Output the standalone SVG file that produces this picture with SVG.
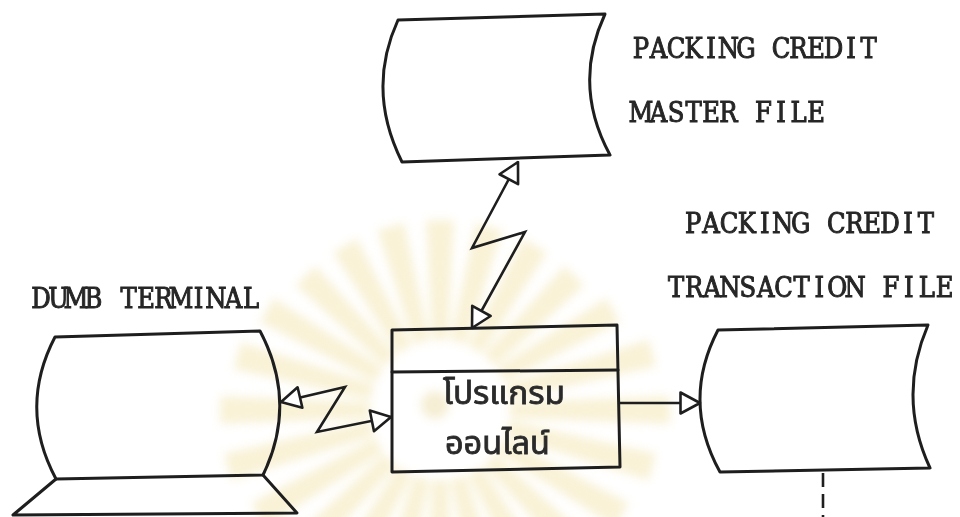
<svg xmlns="http://www.w3.org/2000/svg" width="960" height="517" viewBox="0 0 960 517">
  <style>
    .shape { fill: none; stroke: #1e1e1e; stroke-width: 3; stroke-linejoin: round; stroke-linecap: round; }
    .conn { fill: none; stroke: #1e1e1e; stroke-width: 2.6; stroke-linejoin: miter; }
    /* typewriter labels: one fixed-pitch cell per character */
    .label { font-family: "DejaVu Serif Condensed", "DejaVu Serif", "Liberation Serif", serif; font-size: 27px; fill: #262626; stroke: #262626; stroke-width: 0.9; text-anchor: middle; }
    .thai { font-family: "Noto Sans Thai", "Noto Sans", "DejaVu Sans", sans-serif; font-size: 32px; fill: #2a2a2a; stroke: #2a2a2a; stroke-width: 0.8; }
    .ray { fill: #f2e2a6; }
  </style>
  <defs>
    <marker id="open-arrow" viewBox="0 0 23 26" refX="21.5" refY="13" markerWidth="23" markerHeight="26" markerUnits="userSpaceOnUse" orient="auto-start-reverse">
      <path d="M2,2.5 L21.5,13 L2,23.5 Z" fill="#ffffff" stroke="#1e1e1e" stroke-width="2.6" stroke-linejoin="round"/>
    </marker>
    <filter id="soft" x="-20%" y="-20%" width="140%" height="140%">
      <feGaussianBlur stdDeviation="5"/>
    </filter>
  </defs>

  <rect width="960" height="517" fill="#ffffff"/>

  <!-- faint sunburst emblem printed behind the program box -->
  <g id="emblem" opacity="0.45" filter="url(#soft)">
    <g transform="translate(440,410)">
      <polygon class="ray" points="-8,-70 8,-70 14,-190 -14,-190" transform="rotate(0)"/>
      <polygon class="ray" points="-8,-70 8,-70 14,-190 -14,-190" transform="rotate(15)"/>
      <polygon class="ray" points="-8,-70 8,-70 14,-190 -14,-190" transform="rotate(30)"/>
      <polygon class="ray" points="-8,-70 8,-70 14,-190 -14,-190" transform="rotate(45)"/>
      <polygon class="ray" points="-8,-70 8,-70 14,-200 -14,-200" transform="rotate(60)"/>
      <polygon class="ray" points="-8,-70 8,-70 14,-220 -14,-220" transform="rotate(75)"/>
      <polygon class="ray" points="-8,-70 8,-70 14,-230 -14,-230" transform="rotate(90)"/>
      <polygon class="ray" points="-8,-70 8,-70 14,-220 -14,-220" transform="rotate(105)"/>
      <polygon class="ray" points="-8,-70 8,-70 14,-210 -14,-210" transform="rotate(120)"/>
      <polygon class="ray" points="-8,-70 8,-70 14,-190 -14,-190" transform="rotate(135)"/>
      <polygon class="ray" points="-8,-70 8,-70 14,-190 -14,-190" transform="rotate(150)"/>
      <polygon class="ray" points="-8,-70 8,-70 14,-190 -14,-190" transform="rotate(165)"/>
      <polygon class="ray" points="-8,-70 8,-70 14,-190 -14,-190" transform="rotate(180)"/>
      <polygon class="ray" points="-8,-70 8,-70 14,-190 -14,-190" transform="rotate(195)"/>
      <polygon class="ray" points="-8,-70 8,-70 14,-190 -14,-190" transform="rotate(210)"/>
      <polygon class="ray" points="-8,-70 8,-70 14,-200 -14,-200" transform="rotate(225)"/>
      <polygon class="ray" points="-8,-70 8,-70 14,-210 -14,-210" transform="rotate(240)"/>
      <polygon class="ray" points="-8,-70 8,-70 14,-220 -14,-220" transform="rotate(255)"/>
      <polygon class="ray" points="-8,-70 8,-70 14,-220 -14,-220" transform="rotate(270)"/>
      <polygon class="ray" points="-8,-70 8,-70 14,-210 -14,-210" transform="rotate(285)"/>
      <polygon class="ray" points="-8,-70 8,-70 14,-200 -14,-200" transform="rotate(300)"/>
      <polygon class="ray" points="-8,-70 8,-70 14,-190 -14,-190" transform="rotate(315)"/>
      <polygon class="ray" points="-8,-70 8,-70 14,-190 -14,-190" transform="rotate(330)"/>
      <polygon class="ray" points="-8,-70 8,-70 14,-190 -14,-190" transform="rotate(345)"/>
      <circle r="14" cx="-5" cy="-5" fill="#ead9a0"/>
    </g>
  </g>

  <!-- master file (online storage) -->
  <g id="master-file">
    <path class="shape" d="M398,20 L605,14 Q572,85 610,155 L402,162 Q366,90 398,20 Z"/>
    <text class="label" y="58" x="641 658.5 676 693.5 711 728.5 746 763.5 781 798.5 816 833.5 851 868.5">PACKING CREDIT</text>
    <text class="label" y="122" x="641 658.5 676 693.5 711 728.5 746 763.5 781 798.5 816">MASTER FILE</text>
  </g>

  <!-- dumb terminal (display) -->
  <g id="terminal">
    <path class="shape" d="M55,337 L260,331 Q298,403 263,475 L56,479 Q18,408 55,337 Z"/>
    <path class="shape" d="M56,479 L13,515 L297,513 L263,475"/>
    <text class="label" y="308" x="41 58.5 76 93.5 111 128.5 146 163.5 181 198.5 216 233.5 251">DUMB TERMINAL</text>
  </g>

  <!-- online program (process) -->
  <g id="online-program">
    <path class="shape" d="M392,330 L617,325 L620,467 L392,472 Z"/>
    <path class="shape" d="M392,372 L618,370"/>
    <text class="thai" x="443" y="404" textLength="122" lengthAdjust="spacingAndGlyphs">โปรแกรม</text>
    <text class="thai" x="445" y="454" textLength="105" lengthAdjust="spacingAndGlyphs">ออนไลน์</text>
  </g>

  <!-- transaction file (online storage) -->
  <g id="transaction-file">
    <path class="shape" d="M718,330 L928,325 Q897,397 930,468 L720,472 Q681,401 718,330 Z"/>
    <text class="label" y="233" x="693.2 711.1 729 746.9 764.8 782.7 800.6 818.5 836.4 854.3 872.2 890.1 908 925.9">PACKING CREDIT</text>
    <text class="label" y="297" x="676.2 694.1 712 729.9 747.8 765.7 783.6 801.5 819.4 837.3 855.2 873.1 891 908.9 926.8 944.7">TRANSACTION FILE</text>
  </g>

  <!-- connectors -->
  <g id="connectors">
    <polyline class="conn" points="518,162 472,248 525,232 472,328" marker-start="url(#open-arrow)" marker-end="url(#open-arrow)"/>
    <polyline class="conn" points="281,402 345,387 317,432 391,417" marker-start="url(#open-arrow)" marker-end="url(#open-arrow)"/>
    <line class="conn" x1="619" y1="403" x2="700" y2="403" marker-end="url(#open-arrow)"/>
    <line class="conn" x1="823" y1="473" x2="823" y2="517" stroke-dasharray="14,7"/>
  </g>
</svg>
